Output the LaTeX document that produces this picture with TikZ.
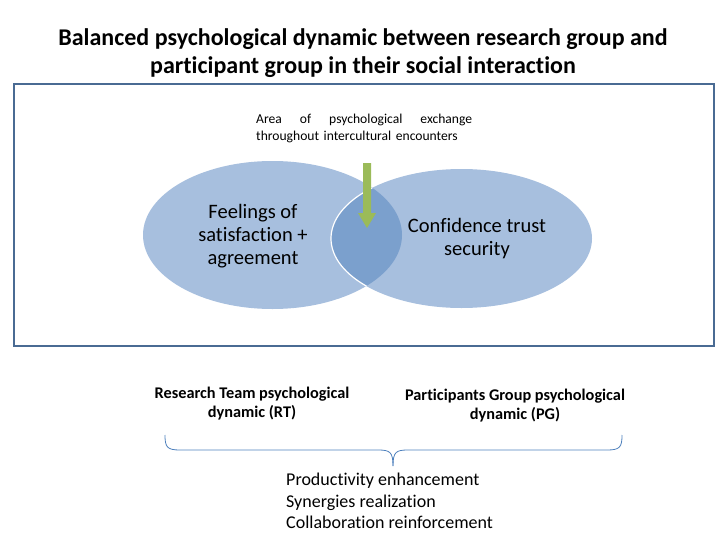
\documentclass[tikz,border=0pt]{standalone}
\usepackage{fontspec}
\setmainfont[Ligatures=NoCommon]{Carlito}
\begin{document}
\begin{tikzpicture}[x=1pt,y=-1pt,
  ell/.style={fill=ellfill},
  title/.style={font=\bfseries\fontsize{24}{28}\selectfont, align=center},
  sub/.style={font=\bfseries\fontsize{16.3}{19}\selectfont, align=center},
  big/.style={font=\fontsize{20.5}{23}\selectfont, align=center},
  plain/.style={font=\fontsize{18}{21.5}\selectfont, align=left, anchor=north west, inner sep=0pt}]
\definecolor{ellfill}{HTML}{A7BFDE}
\definecolor{ovfill}{HTML}{7BA0CD}
\definecolor{framec}{HTML}{4A6B93}
\definecolor{bracec}{HTML}{4F81BD}
\definecolor{arrowc}{HTML}{9BBB59}
\useasboundingbox (0,0) rectangle (728,546);
\node[title] (t) at (363,53) {Balanced psychological dynamic between research group and\\participant group in their social interaction};
\draw[framec, line width=1.6pt] (14,84) rectangle (714,346);
% ellipses
\fill[ellfill] (272.5,235) ellipse [x radius=129.5, y radius=74];
\fill[ellfill] (461.5,238.5) ellipse [x radius=130.5, y radius=69.5];
\begin{scope}
  \clip (272.5,235) ellipse [x radius=129.5, y radius=74];
  \fill[ovfill] (461.5,238.5) ellipse [x radius=130.5, y radius=69.5];
  \draw[white, line width=1.2pt] (461.5,238.5) ellipse [x radius=130.5, y radius=69.5];
\end{scope}
\node[big] (l) at (253,236) {Feelings of\\satisfaction +\\agreement};
\node[big] (r) at (477,239) {Confidence trust\\security};
% area text
\node[font=\fontsize{13.6}{17}\selectfont, text width=216pt, align=left, anchor=north west, inner sep=0pt] (a) at (256,114) {Area\hfill of\hfill psychological\hfill exchange\\throughout intercultural encounters};
% green arrow
\coordinate (as) at (367,163);
\coordinate (ae) at (367,228);
\fill[arrowc] (363,163) -- (371,163) -- (371,213) -- (376,213) -- (367,228) -- (358,213) -- (363,213) -- cycle;
% bottom labels
\node[sub] (rt) at (252,404) {Research Team psychological\\dynamic (RT)};
\node[sub] (pg) at (515,406) {Participants Group psychological\\dynamic (PG)};
% brace
\coordinate (bl) at (165,435);
\coordinate (br) at (622,435);
\coordinate (tip) at (393,466);
\draw[bracec, line width=0.8pt] (bl) .. controls (165,447) and (167,450) .. (180,450) -- (378,450) .. controls (390,450) and (393,452) .. (tip);
\draw[bracec, line width=0.8pt] (tip) .. controls (393,452) and (396,450) .. (408,450) -- (607,450) .. controls (620,450) and (622,447) .. (br);
\node[plain] (p) at (286,473) {Productivity enhancement\\Synergies realization\\Collaboration reinforcement};
\end{tikzpicture}
\end{document}
